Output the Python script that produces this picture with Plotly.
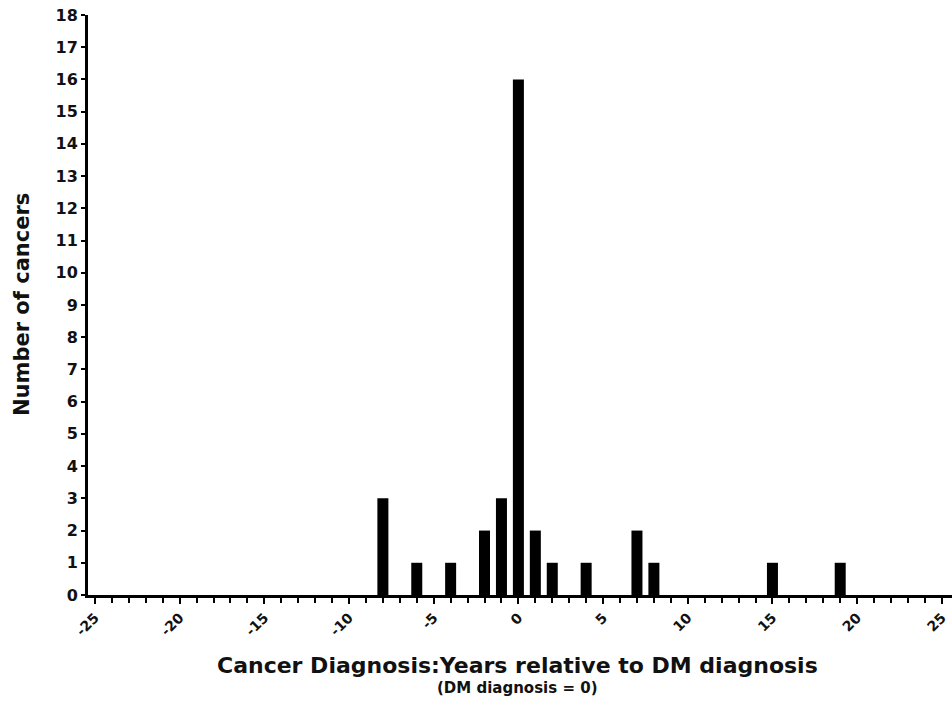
import plotly.graph_objects as go

years = [-8, -6, -4, -2, -1, 0, 1, 2, 4, 7, 8, 15, 19]
counts = [3, 1, 1, 2, 3, 16, 2, 1, 1, 2, 1, 1, 1]
x_tick_vals = [-25, -20, -15, -10, -5, 0, 5, 10, 15, 20, 25]
x_tick_text = ["-25", "-20", "-15", "-10", "-5", "0", "5", "10", "15", "20", "25"]
y_tick_vals = list(range(0, 19))

FONT = "DejaVu Sans, Liberation Sans, Arial, sans-serif"

fig = go.Figure()
fig.add_trace(go.Bar(x=years, y=counts, width=0.65,
                     marker=dict(color="black", line=dict(width=0))))

fig.update_layout(
    width=952, height=709,
    margin=dict(l=88, r=0, t=15, b=114),
    paper_bgcolor="white", plot_bgcolor="white",
    showlegend=False,
    font=dict(family=FONT, color="#111"),
    xaxis=dict(
        range=[-25.41, 25.6], automargin=False,
        tickmode="array", tickvals=x_tick_vals, ticktext=x_tick_text,
        tickangle=-45, ticklabeloverflow="allow",
        ticks="outside", ticklen=6, tickwidth=2, tickcolor="black",
        minor=dict(dtick=1, tick0=0, ticks="outside", ticklen=5, tickwidth=2, tickcolor="black"),
        showline=True, linecolor="black", linewidth=3,
        showgrid=False, zeroline=False,
        tickfont=dict(size=14, family=FONT, weight="bold"),
    ),
    yaxis=dict(
        range=[0, 18], automargin=False,
        tickmode="array", tickvals=y_tick_vals, ticklabeloverflow="allow",
        ticks="outside", ticklen=4, tickwidth=2, tickcolor="black",
        showline=True, linecolor="black", linewidth=3,
        showgrid=False, zeroline=False,
        tickfont=dict(size=16, family=FONT, weight="bold"),
    ),
    annotations=[
        dict(text="<b>Number of cancers</b>", xref="paper", yref="paper",
             x=0, y=0.5, xshift=-66, textangle=-90, showarrow=False,
             xanchor="center", yanchor="middle",
             font=dict(size=21, family=FONT, color="#111")),
        dict(text="<b>Cancer Diagnosis:Years relative to DM diagnosis</b>", xref="paper", yref="paper",
             x=0.497, y=0, yshift=-70, showarrow=False,
             xanchor="center", yanchor="middle",
             font=dict(size=22, family=FONT, color="#111")),
        dict(text="<b>(DM diagnosis = 0)</b>", xref="paper", yref="paper",
             x=0.497, y=0, yshift=-93, showarrow=False,
             xanchor="center", yanchor="middle",
             font=dict(size=15, family=FONT, color="#111")),
    ],
)

fig.write_html("out.html", config={"displayModeBar": False},
               post_script="document.body.style.margin='0';")
